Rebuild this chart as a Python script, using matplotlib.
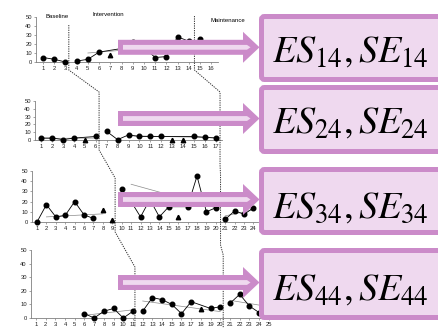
import numpy as np
import matplotlib.pyplot as plt
from matplotlib.patches import Polygon, FancyBboxPatch

plt.rcParams['font.family'] = ['Liberation Sans', 'DejaVu Sans']
plt.rcParams['mathtext.fontset'] = 'stix'

# ---------------- session data (percentage of intervals) ----------------
n_sessions = [16, 17, 24, 25]

# Case 1
c1_base_x, c1_base_y = [1, 2, 3], [5, 3, 0]
c1_int_x = [4, 5, 6, 8, 9, 10, 11, 12, 13, 14]
c1_int_y = [1, 3, 11, 15, 22, 16, 5, 6, 28, 23]
c1_mnt_x, c1_mnt_y = [15, 16], [26, 18]
c1_tri_x, c1_tri_y = [7], [8]
c1_trend = [([5, 13], [10, 18])]

# Case 2
c2_base_x, c2_base_y = [1, 2, 3, 4, 6], [2.5, 2.5, 0.5, 2.5, 4.5]
c2_int_x = [7, 8, 9, 10, 11, 12, 15, 16, 17]
c2_int_y = [11, 0.5, 6.5, 4.5, 4.5, 4.5, 4.5, 3.5, 2.5]
c2_mnt_x, c2_mnt_y = [], []
c2_tri_x, c2_tri_y = [5, 13, 14], [0.5, 0.5, 0.5]
c2_trend = [([1, 6], [2, 2.5]), ([9, 17], [5.5, 3])]

# Case 3
c3_base_x, c3_base_y = [1, 2, 3, 4, 5, 6, 7], [0, 17, 5, 6.5, 20, 7, 3.5]
c3_int_x = [10, 11, 12, 13, 14, 15, 17, 18, 19, 20]
c3_int_y = [32, 20, 5, 22, 5, 15, 15, 45, 10, 14]
c3_mnt_x, c3_mnt_y = [21, 22, 23, 24], [2.5, 11, 7.5, 14]
c3_tri_x, c3_tri_y = [8, 9, 16], [12, 1.5, 5]
c3_trend = [([2, 8], [5, 8]), ([11, 20], [37, 14]), ([21, 24], [6, 12])]

# Case 4
c4_base_x, c4_base_y = [6, 7, 8, 9, 10, 11], [3.2, 0, 5, 7, 0, 5]
c4_int_x = [12, 13, 14, 15, 16, 17, 19, 20]
c4_int_y = [5, 15, 13.5, 10, 3.2, 12, 7, 8.3]
c4_mnt_x, c4_mnt_y = [21, 22, 23, 24], [10.8, 17.4, 8.8, 4]
c4_tri_x, c4_tri_y = [18], [6.5]
c4_trend = [([6, 11], [2, 6]), ([12, 20], [12.5, 4.7]), ([21, 24], [13, 9.5])]

cases = [
    (c1_base_x, c1_base_y, c1_int_x, c1_int_y, c1_mnt_x, c1_mnt_y, c1_tri_x, c1_tri_y, c1_trend),
    (c2_base_x, c2_base_y, c2_int_x, c2_int_y, c2_mnt_x, c2_mnt_y, c2_tri_x, c2_tri_y, c2_trend),
    (c3_base_x, c3_base_y, c3_int_x, c3_int_y, c3_mnt_x, c3_mnt_y, c3_tri_x, c3_tri_y, c3_trend),
    (c4_base_x, c4_base_y, c4_int_x, c4_int_y, c4_mnt_x, c4_mnt_y, c4_tri_x, c4_tri_y, c4_trend),
]

# phase change points (between sessions) for each case
phase1_x = [3.3, 6.3, 9.3, 11.2]
phase2_x = [14.5, 17.4, 20.5, 20.3]

phase_names = ["Baseline", "Intervention", "Maintenance"]
es_labels = [f"$ES_{{{i}4}}, SE_{{{i}4}}$" for i in range(1, 5)]

# ---------------- figure layout (pixels) ----------------
W, H = 439, 332
fig = plt.figure(figsize=(W / 100, H / 100), dpi=100)

panel_px = [(36, 17, 218, 62), (35, 101, 222, 140), (32, 171, 258, 222), (31, 250, 272, 318)]
panel_xlim = [(0.375, 16.6), (0.42, 17.58), (0.47, 24.48), (0.485, 25.33)]

axes = []
for k, (l, t, r, b) in enumerate(panel_px):
    ax = fig.add_axes([l / W, 1 - b / H, (r - l) / W, (b - t) / H])
    ax.patch.set_alpha(0)
    ax.set_xlim(*panel_xlim[k])
    ax.set_ylim(0, 50)
    ax.set_yticks(range(0, 51, 10))
    ax.set_xticks(range(1, n_sessions[k] + 1))
    for s in ("top", "right"):
        ax.spines[s].set_visible(False)
    for s in ("left", "bottom"):
        ax.spines[s].set_color("#808080")
        ax.spines[s].set_linewidth(0.6)
    ax.tick_params(labelsize=4.2, length=1.6, width=0.5, pad=1.4,
                   colors="#808080", labelcolor="#222222")

    bx, by, ix, iy, mx, my, tx, ty, trends = cases[k]
    for (txs, tys) in trends:
        ax.plot(txs, tys, color="#8a8a8a", lw=0.5, clip_on=False, zorder=2)
    for xs, ys in ((bx, by), (ix, iy), (mx, my)):
        if xs:
            ax.plot(xs, ys, color="black", lw=0.6, marker="o", ms=3.3,
                    clip_on=False, zorder=3)
    if tx:
        ax.plot(tx, ty, ls="none", color="black", marker="^", ms=3.2,
                clip_on=False, zorder=3)
    axes.append(ax)

# phase names over the first case
axes[0].text(0.05, 1.0, phase_names[0], transform=axes[0].transAxes, fontsize=4.3,
             va="center", ha="left")
fig.text(93 / W, 1 - 15 / H, phase_names[1], fontsize=4.3, va="center", ha="left")
fig.text(211 / W, 1 - 20.5 / H, phase_names[2], fontsize=4.3, va="center", ha="left")

# ---------------- overlay in pixel coordinates ----------------
ov = fig.add_axes([0, 0, 1, 1], zorder=10)
ov.set_xlim(0, W)
ov.set_ylim(H, 0)
ov.axis("off")
ov.patch.set_alpha(0)


def xpix(ax, x):
    return ax.transData.transform((x, 0))[0]


# dotted phase-change lines running through all four cases
left_path_y = [(25, 70), (92, 150), (178, 232), (267, 327)]
right_path_y = [(16, 70), (92, 165), (175, 245), (255, 328)]
for xs_list, ys_list in ((phase1_x, left_path_y), (phase2_x, right_path_y)):
    px, py = [], []
    for ax, xv, (y0, y1) in zip(axes, xs_list, ys_list):
        xp = xpix(ax, xv)
        px += [xp, xp]
        py += [y0, y1]
    ov.plot(px, py, color="#333333", lw=0.7, ls=(0, (1.3, 1.1)), zorder=1)

edge_col = "#CB8BC9"
fill_col = "#EFD9EF"

# arrows pointing to the effect-size boxes
arrow_cy = [47.3, 118.5, 199.5, 282.5]
for cy in arrow_cy:
    outer = [(118, cy - 7.5), (243, cy - 7.5), (243, cy - 15.5), (259.5, cy),
             (243, cy + 15.5), (243, cy + 7.5), (118, cy + 7.5)]
    inner = [(123, cy - 2.4), (247, cy - 2.4), (250.5, cy), (247, cy + 2.4), (123, cy + 2.4)]
    ov.add_patch(Polygon(outer, closed=True, facecolor=edge_col, edgecolor="none", zorder=3))
    ov.add_patch(Polygon(inner, closed=True, facecolor=fill_col, edgecolor="none", zorder=3.1))

# effect-size boxes
box_tb = [(14, 82), (85, 154), (167, 235), (248, 320)]
text_base = [62, 133, 218, 300]
for (t, b), yb, lab in zip(box_tb, text_base, es_labels):
    ov.add_patch(FancyBboxPatch((261.5, t + 2.5), 200, (b - t) - 5,
                                boxstyle="round,pad=0,rounding_size=3",
                                facecolor=fill_col, edgecolor=edge_col,
                                linewidth=3.6, zorder=2))
    ov.text(272, yb, lab, fontsize=27.5, ha="left", va="baseline", color="black", zorder=4)

fig.savefig("out.png", dpi=100)
